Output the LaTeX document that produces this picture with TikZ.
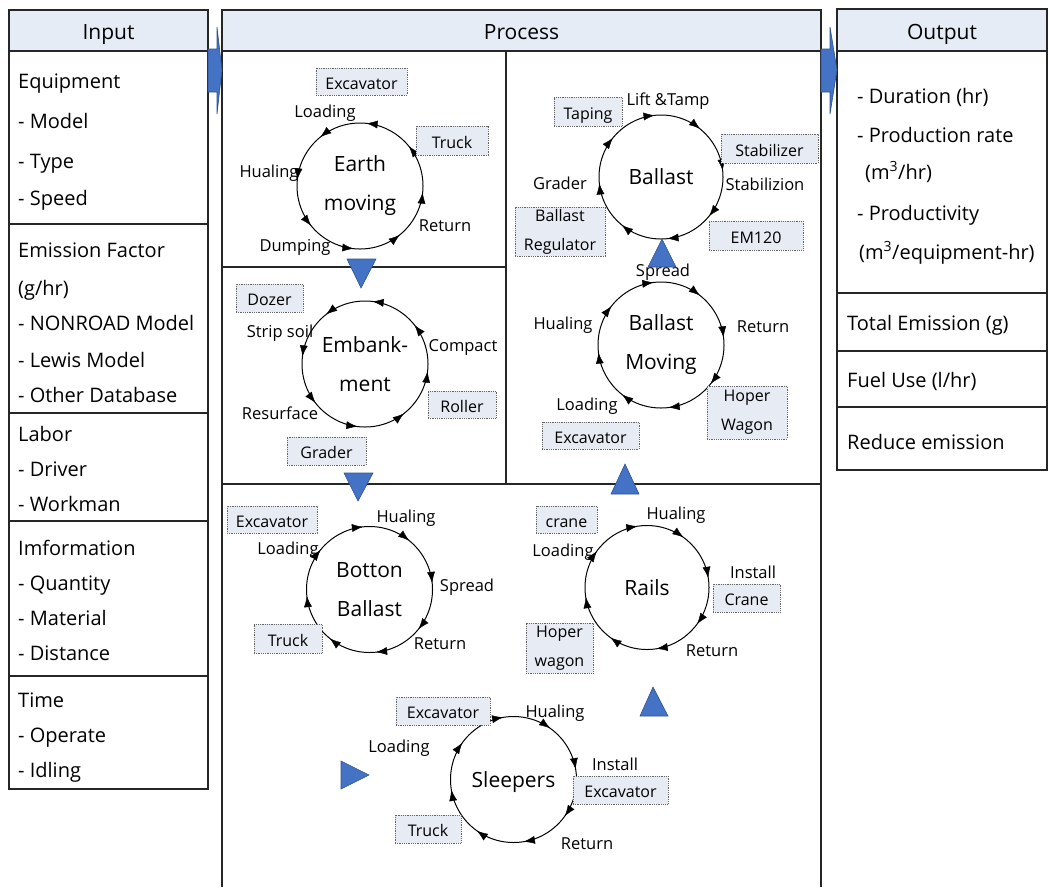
\documentclass[tikz,border=0pt]{standalone}
\usepackage{fontspec}
\setmainfont{Open Sans}
\usetikzlibrary{arrows.meta,decorations.markings}

\definecolor{headfill}{RGB}{230,236,246}
\definecolor{tagfill}{RGB}{231,236,244}
\definecolor{tagline}{RGB}{100,100,100}
\definecolor{flowblue}{RGB}{68,114,196}
\definecolor{flowedge}{RGB}{47,82,143}

\tikzset{
  frame/.style={draw=black!85, line width=1.3pt},
  headline/.style={draw=black!85, line width=1.8pt},
  divider/.style={draw=black!85, line width=1.1pt},
  headtext/.style={font=\fontsize{21}{25}\selectfont, inner sep=0pt, text height=15pt, text depth=0pt},
  item/.style={font=\fontsize{20}{24}\selectfont, anchor=west, inner sep=0pt, text height=14.3pt, text depth=0pt},
  stage/.style={font=\fontsize{16.5}{19}\selectfont, inner sep=0pt, text height=11.8pt, text depth=0pt},
  tag/.style n args={2}{draw=tagline, densely dotted, line width=0.8pt, fill=tagfill, inner sep=0pt,
    minimum width=#1pt, minimum height=#2pt, font=\fontsize{16}{19}\selectfont, text height=15.5pt, text depth=0pt},
  tagtwo/.style n args={2}{draw=tagline, densely dotted, line width=0.8pt, fill=tagfill, inner sep=0pt,
    minimum width=#1pt, minimum height=#2pt, font=\fontsize{16}{29}\selectfont, align=center},
  cyc/.style={circle, draw, line width=1pt, minimum size=#1pt, inner sep=0pt, align=center,
    font=\fontsize{21}{39}\selectfont},
  ccw/.style={decoration={markings, mark=between positions #1 and 1 step 0.125 with
    {\arrow{Latex[length=11pt,width=8pt]}}}, decorate},
  cw/.style={decoration={markings, mark=between positions #1 and 1 step 0.125 with
    {\arrowreversed{Latex[length=11pt,width=8pt]}}}, decorate},
  flow/.style={fill=flowblue, draw=flowedge, line width=0.6pt, line join=miter},
}

\begin{document}
\begin{tikzpicture}[x=1pt,y=1pt]
\useasboundingbox (0,0) rectangle (1048,-887);

% ---------- Input column ----------
\fill[headfill] (9,-10) rectangle (208,-51);
\draw[frame] (9,-10) rectangle (208,-789);
\draw[headline] (9,-51) -- (208,-51);
\foreach \yy in {224,413,521,676} \draw[divider] (9,-\yy) -- (208,-\yy);

\node[headtext] (inhead) at (108.5,-32) {Input};
\node[item] (in1)  at (18,-81)  {Equipment};
\node[item] (in2)  at (18,-121.5) {- Model};
\node[item] (in3)  at (18,-161) {- Type};
\node[item] (in4)  at (18,-198.5) {- Speed};
\node[item] (in5)  at (18,-250.5) {Emission Factor};
\node[item] (in6)  at (18,-288) {(g/hr)};
\node[item] (in7)  at (18,-323.3) {- NONROAD Model};
\node[item] (in8)  at (18,-360) {- Lewis Model};
\node[item] (in9)  at (18,-395.3) {- Other Database};
\node[item] (in10) at (18,-434.7) {Labor};
\node[item] (in11) at (18,-469.7) {- Driver};
\node[item] (in12) at (18,-504.3) {- Workman};
\node[item] (in13) at (18,-548.8) {Imformation};
\node[item] (in14) at (18,-583) {- Quantity};
\node[item] (in15) at (18,-618.8) {- Material};
\node[item] (in16) at (18,-653.8) {- Distance};
\node[item] (in17) at (18,-700) {Time};
\node[item] (in18) at (18,-735.8) {- Operate};
\node[item] (in19) at (18,-770.8) {- Idling};

% ---------- Process frame ----------
\fill[headfill] (222,-10) rectangle (821,-51);
\draw[frame] (222,-887) -- (222,-10) -- (821,-10) -- (821,-887);
\draw[headline] (222,-51) -- (821,-51);
\draw[divider] (506,-51) -- (506,-484);
\draw[divider] (222,-267) -- (506,-267);
\draw[divider] (222,-484) -- (821,-484);
\node[headtext] (prhead) at (521.5,-32) {Process};

% ---------- Output column ----------
\fill[headfill] (837,-9) rectangle (1047,-51);
\draw[frame] (837,-9) rectangle (1047,-470);
\draw[headline] (837,-51) -- (1047,-51);
\foreach \yy in {293,351,407} \draw[divider] (837,-\yy) -- (1047,-\yy);
\node[headtext] (outhead) at (942,-32) {Output};
\node[item] (out1) at (857,-96.7)  {- Duration (hr)};
\node[item] (out2) at (857,-135.8) {- Production rate};
\node[item] (out3) at (865,-172)   {(m\textsuperscript{3}/hr)};
\node[item] (out4) at (857,-213.8) {- Productivity};
\node[item] (out5) at (859,-252)   {(m\textsuperscript{3}/equipment-hr)};
\node[item] (out6) at (847,-323.8) {Total Emission (g)};
\node[item] (out7) at (847,-380.5) {Fuel Use (l/hr)};
\node[item] (out8) at (847,-442)   {Reduce emission};

% ---------- Earth moving ----------
\node[cyc=126] (em) at (360,-186) {Earth\\moving};
\path[ccw=0.1083] (em.center) circle[radius=63pt];
\node[tag={91}{27}] (emexc) at (361.5,-81.5) {Excavator};
\node[tag={72}{29}] (emtruck) at (452,-140.5) {Truck};
\node[stage] (emload) at (325,-112) {Loading};
\node[stage] (emhaul) at (269,-172) {Hualing};
\node[stage] (emdump) at (295,-246) {Dumping};
\node[stage] (emret)  at (445,-226) {Return};

% ---------- Embankment ----------
\node[cyc=126] (eb) at (365,-364) {Embank-\\ment};
\path[ccw=0.1056] (eb.center) circle[radius=63pt];
\node[tag={67}{28}] (ebdozer) at (269.5,-298) {Dozer};
\node[tag={68}{27}] (ebroller) at (462,-404.5) {Roller};
\node[tag={79}{28}] (ebgrader) at (326.5,-451) {Grader};
\node[stage] (ebstrip) at (280,-332) {Strip soil};
\node[stage] (ebcomp)  at (463,-346) {Compact};
\node[stage] (ebresf)  at (280,-414) {Resurface};

% ---------- Ballast ----------
\node[cyc=124, text height=15pt, text depth=0pt] (bl) at (661,-177) {Ballast};
\path[cw=0.0167] (bl.center) circle[radius=62pt];
\node[tag={68}{29}] (bltap) at (588,-111.5) {Taping};
\node[tag={97}{29}] (blstab) at (769.5,-148.5) {Stabilizer};
\node[tag={94}{29}] (blem) at (756,-235.5) {EM120};
\node[tagtwo={90}{49}] (blreg) at (560,-231.5) {Ballast\\Regulator};
\node[stage] (bllift) at (668,-100) {Lift \&Tamp};
\node[stage] (blstbz) at (765,-185) {Stabilizion};
\node[stage] (blgrad) at (560,-184) {Grader};
\node[stage] (blspr)  at (663,-271) {Spread};

% ---------- Ballast moving ----------
\node[cyc=126] (bm) at (661,-345) {Ballast\\Moving};
\path[cw=0.0194] (bm.center) circle[radius=63pt];
\node[tag={97}{27}] (bmexc) at (590.5,-435.5) {Excavator};
\node[tagtwo={80}{53}] (bmhop) at (747,-412.5) {Hoper\\Wagon};
\node[stage] (bmhaul) at (563,-324) {Hualing};
\node[stage] (bmret)  at (763,-327) {Return};
\node[stage] (bmload) at (587,-405) {Loading};

% ---------- Botton ballast ----------
\node[cyc=126] (bb) at (369.5,-589.5) {Botton\\Ballast};
\path[cw=0.0167] (bb.center) circle[radius=63pt];
\node[tag={90}{27}] (bbexc) at (272,-519.5) {Excavator};
\node[tag={68}{29}] (bbtruck) at (288,-638.5) {Truck};
\node[stage] (bbhaul) at (406,-517) {Hualing};
\node[stage] (bbload) at (288,-549) {Loading};
\node[stage] (bbspr)  at (467,-586) {Spread};
\node[stage] (bbret)  at (440,-644) {Return};

% ---------- Rails ----------
\node[cyc=124, text height=15pt, text depth=0pt] (rl) at (647,-587.5) {Rails};
\path[cw=0.025] (rl.center) circle[radius=62pt];
\node[tag={61}{27}] (rlcrane) at (566.5,-519.5) {crane};
\node[tag={67}{28}] (rlcrane2) at (746.5,-598) {Crane};
\node[tagtwo={67}{50}] (rlhop) at (559.5,-648) {Hoper\\wagon};
\node[stage] (rlhaul) at (676,-514) {Hualing};
\node[stage] (rlload) at (563,-551) {Loading};
\node[stage] (rlinst) at (753,-573) {Install};
\node[stage] (rlret)  at (712,-651) {Return};

% ---------- Sleepers ----------
\node[cyc=126, text height=15pt, text depth=0pt] (sl) at (513.5,-779.5) {Sleepers};
\path[cw=0.0264] (sl.center) circle[radius=63pt];
\node[tag={94}{28}] (slexc) at (443,-711) {Excavator};
\node[tag={95}{28}] (slexc2) at (620.5,-790) {Excavator};
\node[tag={66}{28}] (sltruck) at (428,-829) {Truck};
\node[stage] (slhaul) at (555,-712) {Hualing};
\node[stage] (slload) at (399,-747) {Loading};
\node[stage] (slinst) at (615,-765) {Install};
\node[stage] (slret)  at (587,-844) {Return};

% ---------- Flow markers ----------
\path[flow] (208,-49) -- (217,-49) -- (217,-27) -- (222,-70) -- (217,-114) -- (217,-92) -- (208,-92) -- cycle;
\path[flow] (821,-49) -- (830,-49) -- (830,-27) -- (837,-70) -- (830,-114) -- (830,-92) -- (821,-92) -- cycle;
\path[flow] (347,-259) -- (376,-259) -- (361,-288) -- cycle;
\path[flow] (344,-473) -- (373,-473) -- (358,-501) -- cycle;
\path[flow] (648,-267) -- (676,-267) -- (662,-239) -- cycle;
\path[flow] (611,-494) -- (639,-494) -- (625,-464) -- cycle;
\path[flow] (341,-761) -- (341,-789) -- (369,-775) -- cycle;
\path[flow] (640,-716) -- (668,-716) -- (653,-687) -- cycle;

\end{tikzpicture}
\end{document}
